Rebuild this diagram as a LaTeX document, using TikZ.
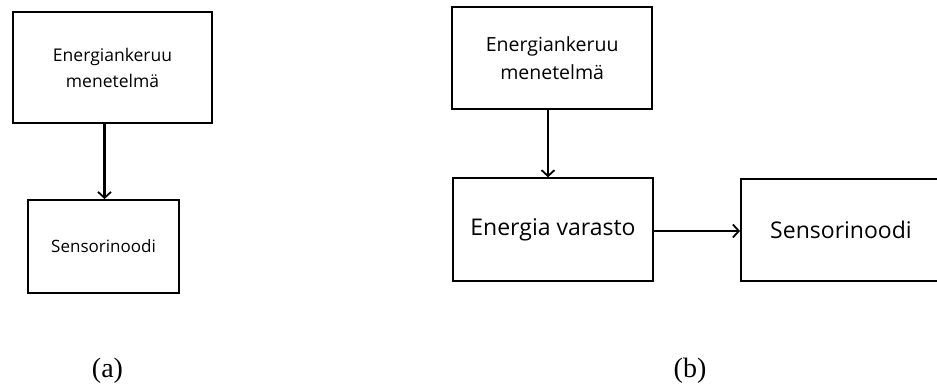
\documentclass[tikz,border=0pt]{standalone}
\usepackage{fontspec}
\setmainfont{Open Sans}
\newfontfamily\capfont{Liberation Serif}
\usetikzlibrary{arrows.meta}
\begin{document}
\begin{tikzpicture}[x=1pt,y=-1pt,
  blockbox/.style={draw=black,line width=1.8pt,inner sep=0pt,align=center},
  flow/.style={line width=2.2pt,-{Straight Barb[length=6pt,width=13pt,line width=1.8pt]}},
  caption/.style={font=\capfont\fontsize{28}{32}\selectfont,anchor=base}]
\useasboundingbox (0,0) rectangle (937,383);
% (a): harvester feeding the sensor node directly
\node[blockbox,minimum width=199pt,minimum height=111pt,
  font=\fontsize{17.5}{26}\selectfont] (ah) at (112.5,67.5)
  {Energiankeruu\\menetelmä};
\node[blockbox,minimum width=151pt,minimum height=93pt,
  font=\fontsize{17}{20}\selectfont] (as) at (103.5,246.5) {Sensorinoodi};
\draw[flow] (ah.south -| 104.5,0) -- (104.5,0 |- as.north);
% (b): harvester, storage and sensor node in a chain
\node[blockbox,minimum width=200pt,minimum height=102pt,
  font=\fontsize{19.5}{28}\selectfont] (bh) at (552.2,57.8)
  {Energiankeruu\\menetelmä};
\node[blockbox,minimum width=200pt,minimum height=103pt,
  font=\fontsize{23}{26}\selectfont] (bs) at (553,229.7) {Energia varasto};
\node[blockbox,minimum width=200pt,minimum height=102pt,
  font=\fontsize{23}{26}\selectfont] (bn) at (841,230) {Sensorinoodi};
\draw[flow] (bh.south -| 548,0) -- (548,0 |- bs.north);
\draw[flow] (bs.east |- 0,231) -- (bn.west |- 0,231);
% captions
\node[caption] (ca) at (107.5,377) {(a)};
\node[caption] (cb) at (690,377) {(b)};
\end{tikzpicture}
\end{document}
